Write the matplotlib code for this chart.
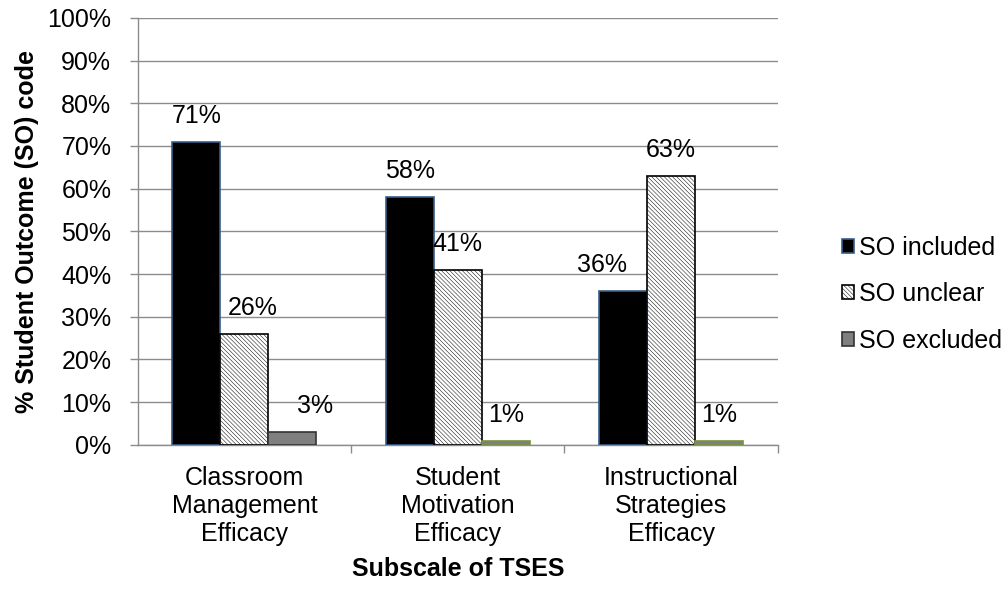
import numpy as np
import matplotlib.pyplot as plt

#----------------------------------------------------
# Data
#----------------------------------------------------
subscales = ["Classroom\nManagement\nEfficacy",
             "Student\nMotivation\nEfficacy",
             "Instructional\nStrategies\nEfficacy"]
so_included = [71, 58, 36]
so_unclear = [26, 41, 63]
so_excluded = [3, 1, 1]
series_names = ["SO included", "SO unclear", "SO excluded"]

plt.rcParams["font.family"] = ["Liberation Sans", "DejaVu Sans"]
plt.rcParams["hatch.linewidth"] = 0.35

#----------------------------------------------------
# Figure
#----------------------------------------------------
fig = plt.figure(figsize=(10.05, 5.94), dpi=100)
ax = fig.add_axes([0.137, 0.251, 0.637, 0.719])

x = np.arange(len(subscales))
w = 0.225
grid_grey = "#8c8c8c"
fs = 18

b1 = ax.bar(x - w, so_included, w, color="black", edgecolor="#385d8a", linewidth=1.2, zorder=3)
b2 = ax.bar(x, so_unclear, w, color="white", edgecolor="black", hatch="\\\\\\\\\\\\\\\\", linewidth=1.2, zorder=3)
b3 = ax.bar(x + w, so_excluded, w, color="#7f7f7f", edgecolor=["#333333", "#77933c", "#77933c"],
            linewidth=1.2, zorder=3)

# value labels, a few nudged sideways
nudge = {(2, 0): -15, (0, 2): 16, (0, 1): 6}
for si, bars in enumerate([b1, b2, b3]):
    for ci, rect in enumerate(bars):
        val = rect.get_height()
        ax.annotate(f"{val:.0f}%", (rect.get_x() + rect.get_width() / 2, val),
                    xytext=(nudge.get((ci, si), 0), 10), textcoords="offset points",
                    ha="center", va="bottom", fontsize=fs)

ax.set_xlim(-0.5, 2.5)
ax.set_ylim(0, 100)
ax.set_yticks(np.arange(0, 101, 10))
ax.set_yticklabels([f"{v}%" for v in range(0, 101, 10)])
ax.yaxis.grid(True, color=grid_grey, linewidth=1)
ax.set_axisbelow(True)

ax.set_xticks(x)
ax.set_xticklabels(subscales, fontsize=fs, linespacing=1.22)
ax.set_xticks([0.5, 1.5, 2.5], minor=True)
ax.tick_params(axis="x", which="major", length=0, pad=15)
ax.tick_params(axis="x", which="minor", length=6, color=grid_grey, width=1)
ax.tick_params(axis="y", length=6, color=grid_grey, width=1, labelsize=fs, pad=13)

for s in ["top", "right"]:
    ax.spines[s].set_visible(False)
for s in ["left", "bottom"]:
    ax.spines[s].set_color(grid_grey)
    ax.spines[s].set_linewidth(1)

ax.set_xlabel("Subscale of TSES", fontsize=fs, fontweight="bold", labelpad=8)
ax.set_ylabel("% Student Outcome (SO) code", fontsize=fs, fontweight="bold", labelpad=6)

fig.legend([b1, b2, b3], series_names, loc="center left", bbox_to_anchor=(0.815, 0.505),
           frameon=False, fontsize=fs, handlelength=0.5, handleheight=0.5,
           handletextpad=0.2, labelspacing=0.9)

fig.savefig("out.png", dpi=100)
